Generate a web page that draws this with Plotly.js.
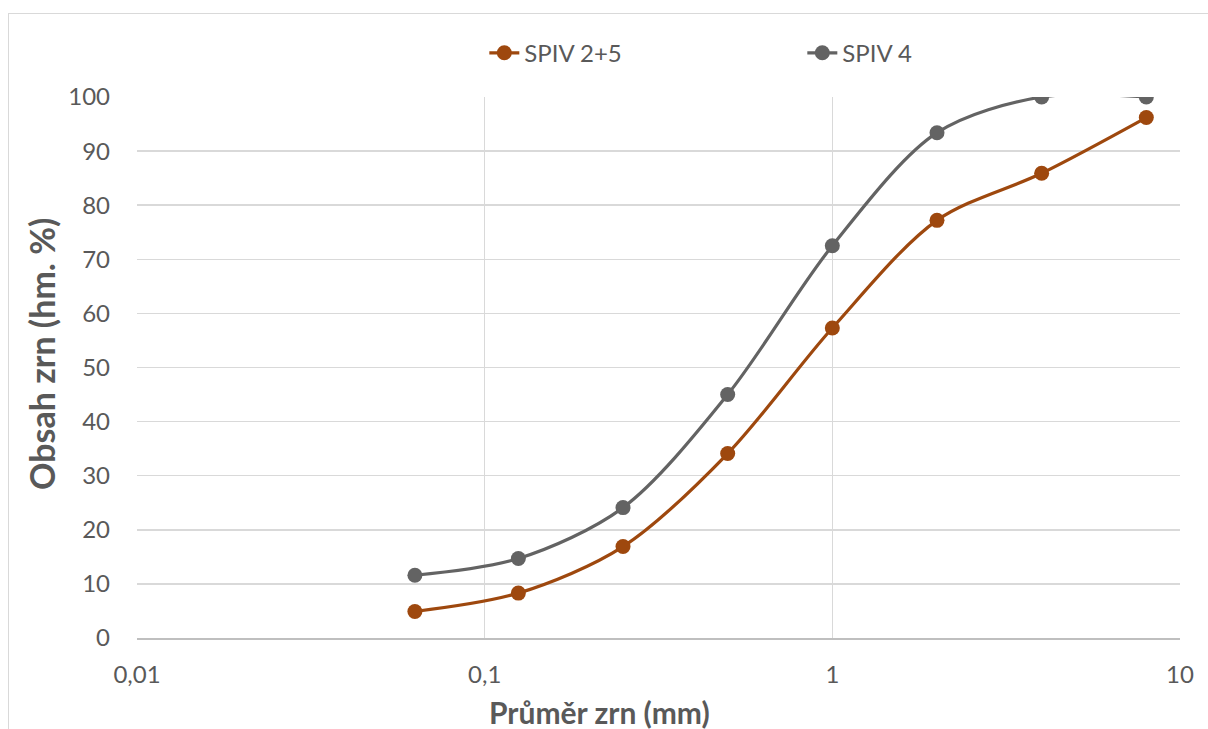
<!DOCTYPE html>
<html>
<head>
<meta charset="utf-8">
<script src="https://cdn.plot.ly/plotly-3.0.1.min.js"></script>
<style>
  html, body { margin: 0; padding: 0; background: #fff; overflow: hidden; }
  #chart { width: 1208px; height: 729px; position: relative; }
  #frame { position: absolute; left: 8px; top: 13px; width: 1400px; height: 900px; border: 1px solid #D9D9D9; box-sizing: border-box; pointer-events: none; }
</style>
</head>
<body>
<div id="chart"></div>
<div id="frame"></div>
<script>
const grainSize = [0.063, 0.125, 0.25, 0.5, 1, 2, 4, 8];
const spiv25 = [4.9, 8.3, 16.9, 34.1, 57.3, 77.2, 85.9, 96.2];
const spiv4 = [11.6, 14.7, 24.1, 45.0, 72.5, 93.4, 100, 100];
const seriesNames = ["SPIV 2+5", "SPIV 4"];
const xTickVals = [0.01, 0.1, 1, 10];
const xTickText = ["0,01", "0,1", "1", "10"];
const xTitle = "Průměr zrn (mm)";
const yTitle = "Obsah zrn (hm. %)";

const font = "Lato, 'Open Sans', sans-serif";
const textColor = "#595959";

const traces = [
  {
    x: grainSize, y: spiv25, name: seriesNames[0], type: "scatter", mode: "lines+markers",
    line: { color: "#9E480E", width: 3.2, shape: "spline", smoothing: 0.9 },
    marker: { color: "#9E480E", size: 15 }
  },
  {
    x: grainSize, y: spiv4, name: seriesNames[1], type: "scatter", mode: "lines+markers",
    line: { color: "#636363", width: 3.2, shape: "spline", smoothing: 0.9 },
    marker: { color: "#636363", size: 15 }
  }
];

const layout = {
  width: 1208, height: 729,
  margin: { l: 137, r: 28, t: 97, b: 91 },
  paper_bgcolor: "#fff", plot_bgcolor: "#fff",
  font: { family: font, size: 24, color: textColor },
  showlegend: true,
  legend: {
    orientation: "h", x: 0.333, xanchor: "left", y: 1.081, yanchor: "middle",
    font: { family: font, size: 24, color: textColor },
    entrywidth: 273, entrywidthmode: "pixels", traceorder: "normal"
  },
  xaxis: {
    type: "log", range: [-2, 1],
    tickvals: xTickVals, ticktext: xTickText,
    showgrid: true, gridcolor: "#D9D9D9", gridwidth: 1.5,
    showline: true, linecolor: "#BFBFBF", linewidth: 1.5, mirror: false,
    zeroline: false, ticks: "", ticklabelstandoff: 15,
    tickfont: { family: font, size: 24, color: textColor }
  },
  yaxis: {
    range: [0, 100], dtick: 10, tick0: 0,
    showgrid: true, gridcolor: "#D9D9D9", gridwidth: 1.5,
    showline: false, zeroline: false, ticks: "", ticklabelstandoff: 26,
    tickfont: { family: font, size: 24, color: textColor }
  },
  annotations: [
    {
      text: "<b>" + xTitle + "</b>", xref: "paper", yref: "paper",
      x: (599 - 137) / 1043, y: -(712 - 638) / 541, xanchor: "center", yanchor: "middle",
      showarrow: false, font: { family: font, size: 30, color: textColor }
    },
    {
      text: "<b>" + yTitle + "</b>", xref: "paper", yref: "paper", textangle: -90,
      x: -(137 - 41) / 1043, y: (638 - 354) / 541, xanchor: "center", yanchor: "middle",
      showarrow: false, font: { family: font, size: 34, color: textColor }
    }
  ]
};

Plotly.newPlot("chart", traces, layout, { displayModeBar: false, staticPlot: true });
</script>
</body>
</html>
